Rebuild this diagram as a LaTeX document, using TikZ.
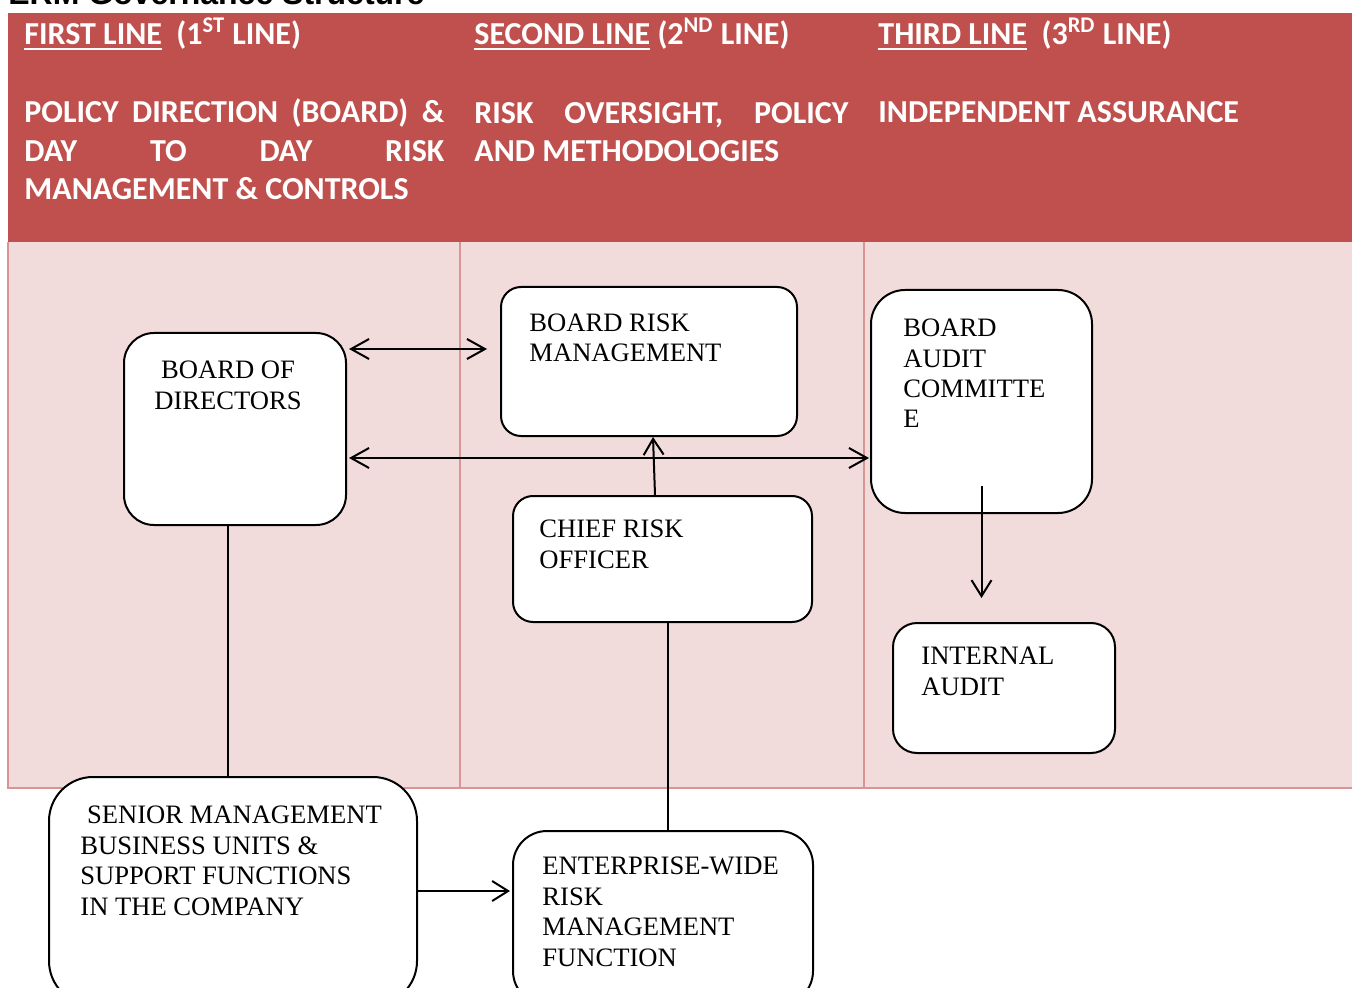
\documentclass[tikz,border=0pt]{standalone}
\usepackage{fontspec}
\usepackage{tikz}
\usetikzlibrary{arrows.meta, positioning, fit}

\newfontfamily\titlefont{Liberation Sans}
\newfontfamily\hdrfont{Carlito}
\newfontfamily\bodyfont{Liberation Serif}

\definecolor{hdrred}{HTML}{C0504D}
\definecolor{cellpink}{HTML}{F2DBDB}
\definecolor{gridpink}{HTML}{D99594}

% underline used in the header row
\newcommand{\hdrul}[1]{\setbox0\hbox{#1}\rlap{\rule[-2.6pt]{\wd0}{1.1pt}}\box0}

\begin{document}
\begin{tikzpicture}[x=0.5pt, y=-0.5pt,
    box/.style={draw=black, line width=1pt, fill=white, inner sep=0pt},
    boxtext/.style={font=\bodyfont\fontsize{13.3}{15.2}\selectfont, align=left, inner sep=0pt, anchor=base west},
    hdrtext/.style={font=\hdrfont\bfseries\fontsize{16}{19.25}\selectfont, text=white, align=left, inner sep=0pt, anchor=base west},
    arrow/.style={line width=1pt, -{Straight Barb[length=8pt,width=10pt]}},
    dblarrow/.style={line width=1pt, {Straight Barb[length=9pt,width=10pt]}-{Straight Barb[length=9pt,width=10pt]}},
    link/.style={line width=1pt},
    grid/.style={draw=gridpink, line width=0.8pt}
]
    \useasboundingbox (0,0) rectangle (1352,988);

    % --- Table ---
    \fill[hdrred] (8,13) rectangle (1352,242);
    \fill[cellpink] (8,242) rectangle (1352,788);
    \draw[grid] (8,242) -- (8,788) -- (1352,788);
    \draw[grid] (460,242) -- (460,788);
    \draw[grid] (864,242) -- (864,788);

    \node[font=\titlefont\bfseries\fontsize{16}{19}\selectfont, anchor=base west, inner sep=0pt] (title) at (8,5) {ERM Governance Structure};

    % Header row (multi-line nodes sit on their last baseline)
    \node[hdrtext] (hdrfirst) at (24,45) {\hdrul{FIRST LINE}\ \ (1\textsuperscript{ST} LINE)};
    \node[hdrtext] (hdrsecond) at (474,45) {\hdrul{SECOND LINE}\ (2\textsuperscript{ND} LINE)};
    \node[hdrtext] (hdrthird) at (878,45) {\hdrul{THIRD LINE}\ \ (3\textsuperscript{RD} LINE)};

    \node[hdrtext] (hdrpolicy) at (24,200) {\makebox[210pt][s]{POLICY DIRECTION (BOARD) \&}\\
        \makebox[210pt][s]{DAY TO DAY RISK}\\MANAGEMENT \& CONTROLS};
    \node[hdrtext] (hdroversight) at (474,162) {\makebox[187pt][s]{RISK OVERSIGHT, POLICY}\\AND METHODOLOGIES};
    \node[hdrtext] (hdrassurance) at (878,123) {INDEPENDENT ASSURANCE};

    % --- Boxes ---
    \node[box, rounded corners=15pt, fit={(124,333) (346,525)}] (bod) {};
    \node[box, rounded corners=10pt, fit={(501,287) (797,436)}] (brm) {};
    \node[box, rounded corners=17pt, fit={(871,290) (1092,513)}] (bac) {};
    \node[box, rounded corners=10pt, fit={(513,496) (812,622)}] (cro) {};
    \node[box, rounded corners=12pt, fit={(893,623) (1115,753)}] (ia) {};
    \node[box, rounded corners=22pt, fit={(49,777) (417,1005)}] (senior) {};
    \node[box, rounded corners=17pt, fit={(513,831) (813,1005)}] (ewrm) {};

    \node[boxtext, align=center, anchor=base] (bodtext) at (228,409) {BOARD OF\\DIRECTORS};
    \node[boxtext] (brmtext) at (529,362) {BOARD RISK\\MANAGEMENT};
    \node[boxtext] (bactext) at (903,428) {BOARD\\AUDIT\\COMMITTE\\E};
    \node[boxtext] (crotext) at (539,568) {CHIEF RISK\\OFFICER};
    \node[boxtext] (iatext) at (921,695) {INTERNAL\\AUDIT};
    \node[boxtext] (seniortext) at (80,915) {\ SENIOR MANAGEMENT\\BUSINESS UNITS \&\\SUPPORT FUNCTIONS\\IN THE COMPANY};
    \node[boxtext] (ewrmtext) at (542,966) {ENTERPRISE-WIDE\\RISK\\MANAGEMENT\\FUNCTION};

    % --- Connectors ---
    \coordinate (iatop) at ([yshift=12pt]ia.north);
    \draw[dblarrow] ([xshift=1pt]bod.east |- 0,349) -- ([xshift=-6.5pt]brm.west |- 0,349);
    \draw[dblarrow] ([xshift=1pt]bod.east |- 0,458) -- ([xshift=-0.5pt]bac.west |- 0,458);
    \draw[arrow] ([xshift=-3.75pt]cro.north) -- ([xshift=2pt]brm.south);
    \draw[arrow] ([yshift=14pt]bac.south) -- (iatop -| bac.south);
    \draw[link] ([xshift=-3.5pt]bod.south) -- ([xshift=-3.5pt]bod.south |- senior.north);
    \draw[link] ([xshift=2.75pt]cro.south) -- ([xshift=2.75pt]cro.south |- ewrm.north);
    \draw[arrow] (senior.east) -- ([xshift=-1pt]ewrm.west |- senior.east);

\end{tikzpicture}
\end{document}
